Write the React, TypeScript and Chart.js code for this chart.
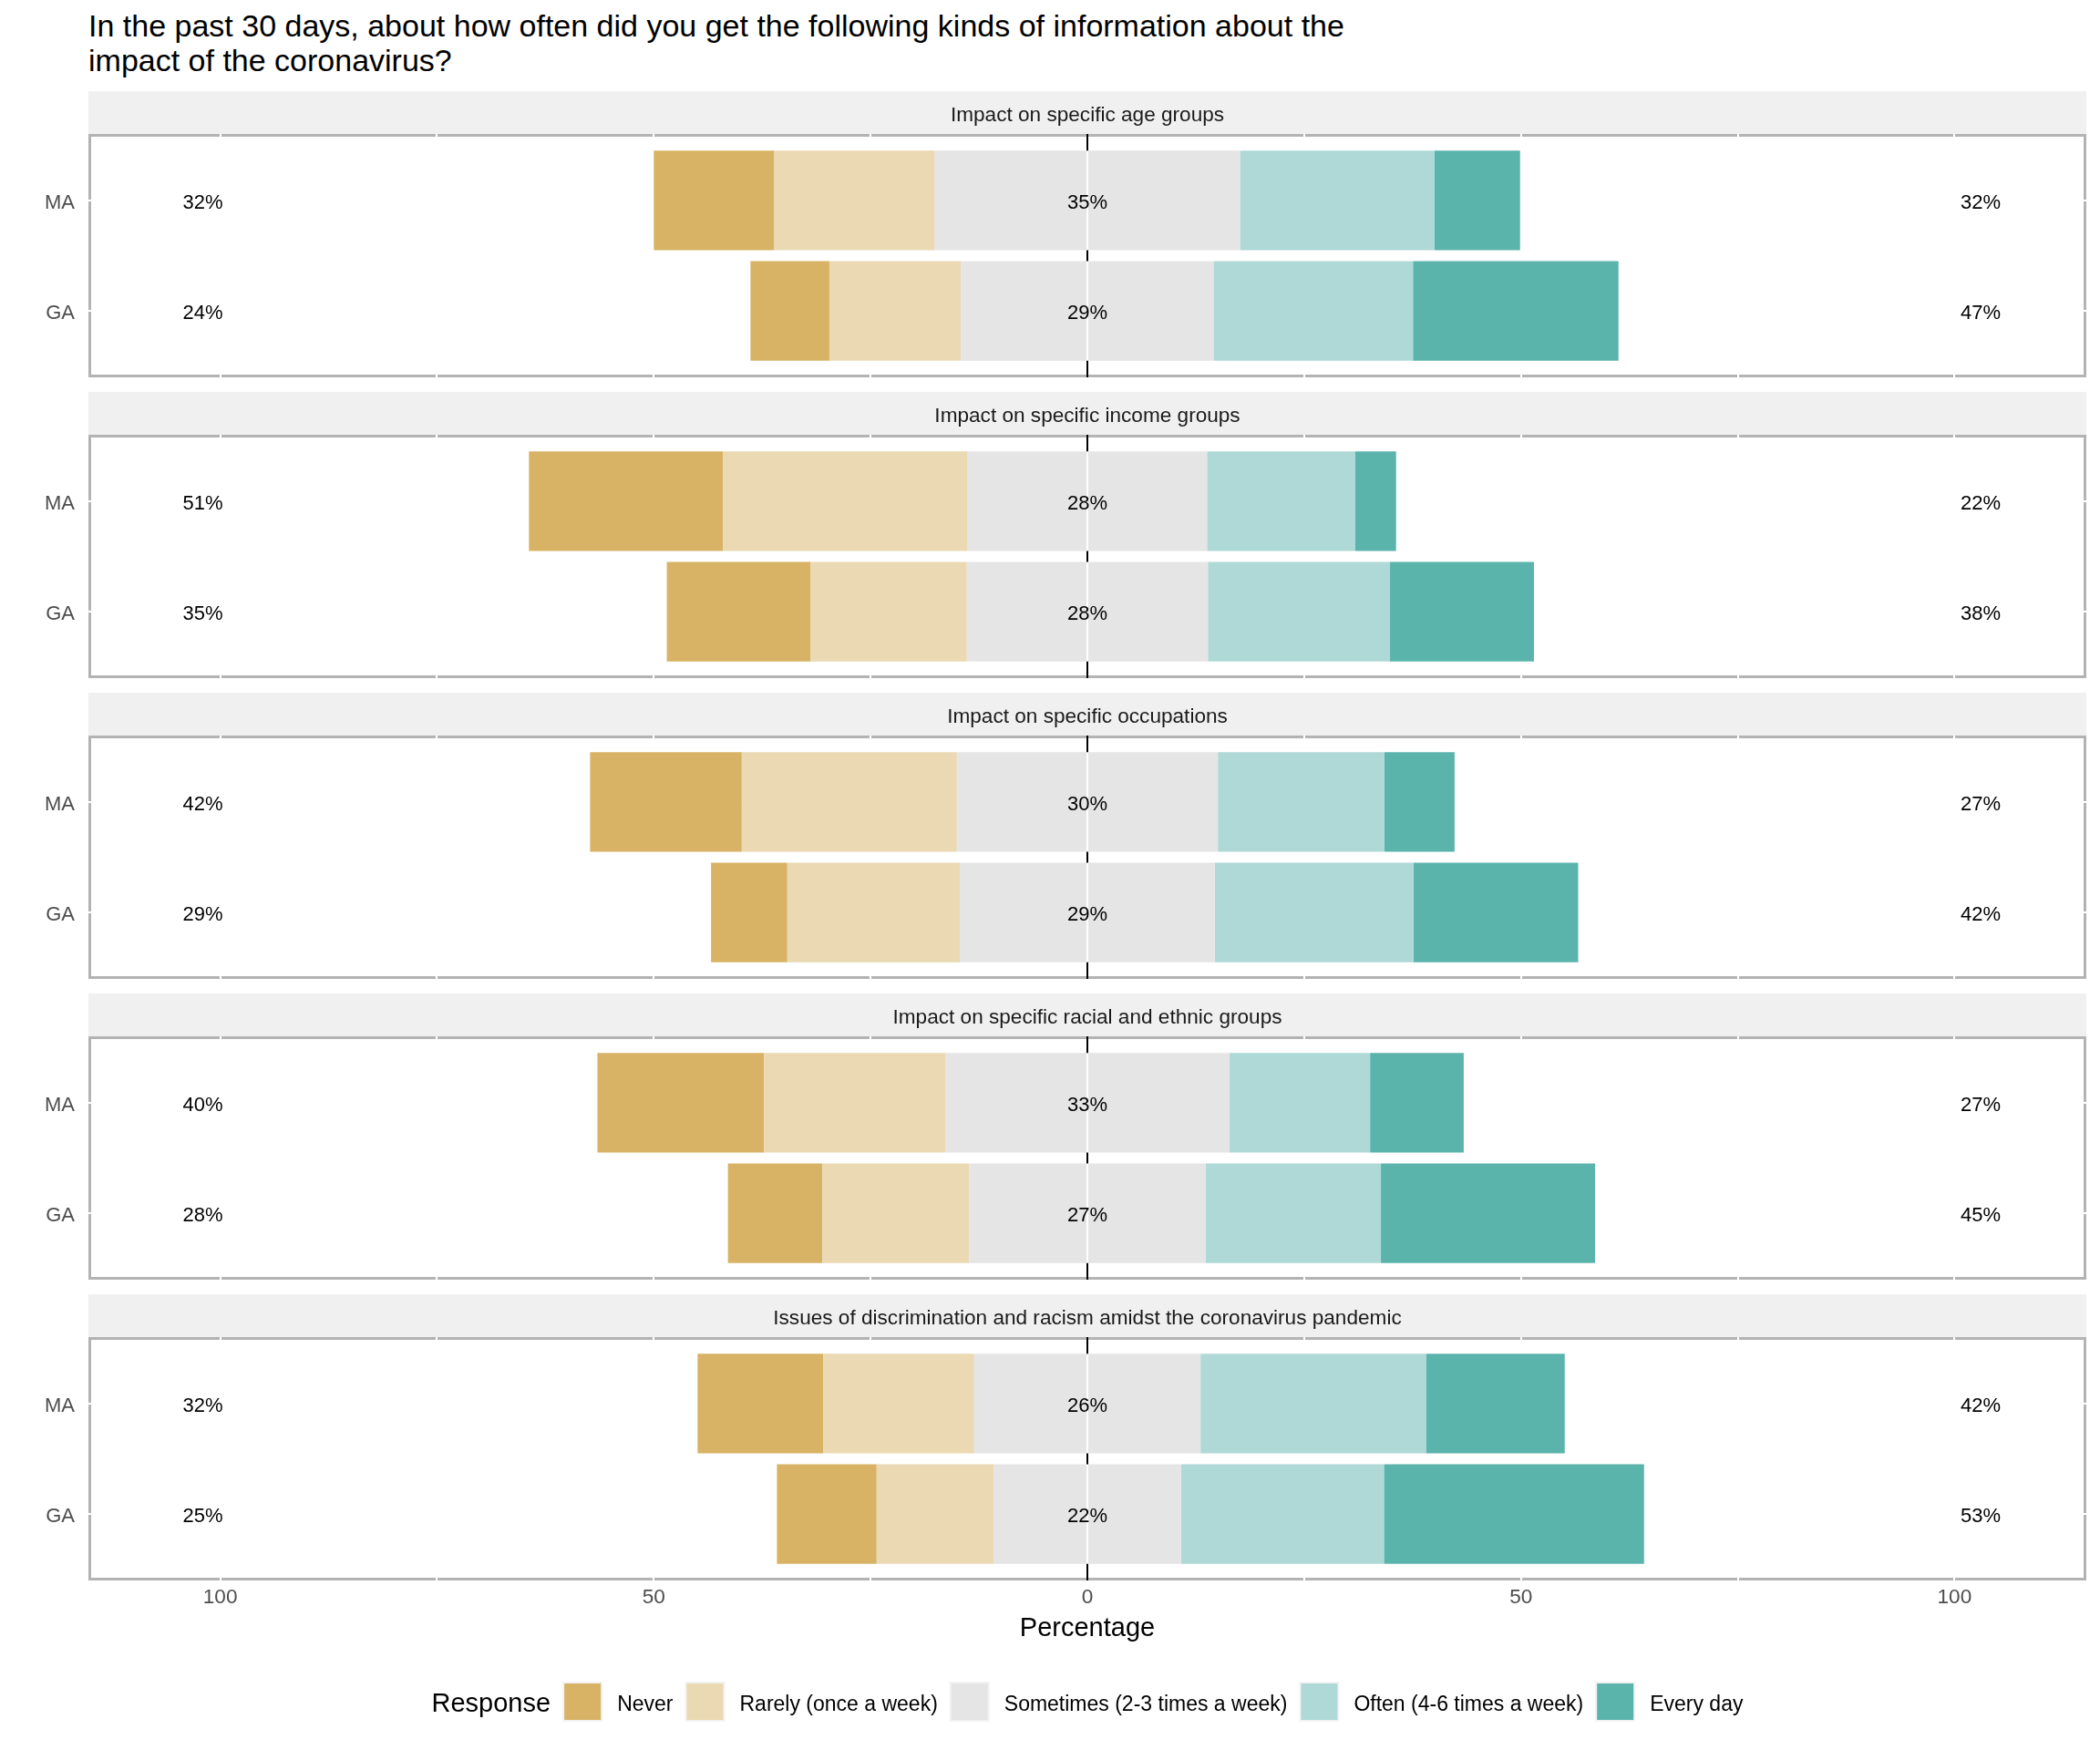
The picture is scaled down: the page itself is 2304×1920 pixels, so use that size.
import React, { useEffect, useRef } from "react";
import { Chart, registerables } from "chart.js";

Chart.register(...registerables);

const FONT = '"Liberation Sans", Arial, Helvetica, sans-serif';

// ---------------- data ----------------
const titleLines = [
  "In the past 30 days, about how often did you get the following kinds of information about the",
  "impact of the coronavirus?",
];
const panelTitles = [
  "Impact on specific age groups",
  "Impact on specific income groups",
  "Impact on specific occupations",
  "Impact on specific racial and ethnic groups",
  "Issues of discrimination and racism amidst the coronavirus pandemic",
];
const groups = ["MA", "GA"];
const responses = [
  "Never",
  "Rarely (once a week)",
  "Sometimes (2-3 times a week)",
  "Often (4-6 times a week)",
  "Every day",
];
const responseColors = ["#D8B365", "#EAD9B2", "#E5E5E5", "#AED9D6", "#5AB4AC"];
// each row: [MA, GA], one row per panel
const never = [[13.9, 9.1], [22.4, 16.6], [17.5, 8.8], [19.2, 10.9], [14.5, 11.5]];
const rarely = [[18.5, 15.2], [28.2, 18.0], [24.8, 19.9], [20.9, 16.9], [17.4, 13.5]];
const sometimes = [[35.2, 29.1], [27.6, 27.8], [30.1, 29.4], [32.8, 27.3], [26.1, 21.6]];
const often = [[22.4, 23.0], [17.1, 21.0], [19.2, 22.9], [16.2, 20.2], [26.0, 23.4]];
const everyDay = [[9.9, 23.7], [4.7, 16.6], [8.1, 19.0], [10.8, 24.7], [16.0, 30.0]];
const xTickLabels = [-100, -50, 0, 50, 100];
const xAxisTitle = "Percentage";
const legendTitle = "Response";

// ---------------- layout ----------------
const W = 2304;
const H = 1920;
const PANEL_TOP = 100;
const PANEL_STEP = 330;
const STRIP_H = 47;
const PLOT_H = 267;
const PANEL_BOTTOM_PAD = 30;
const PLOT_LEFT = 97;
const PLOT_RIGHT = 2289;
const X_MIN = -115.2;
const X_MAX = 115.2;
const LEFT_LABEL_AT = -102;
const RIGHT_LABEL_AT = 103;
const LEGEND_Y = 1867;

function Panel({ index }: { index: number }) {
  const ref = useRef<HTMLCanvasElement | null>(null);
  const isLast = index === panelTitles.length - 1;
  const top = PANEL_TOP + index * PANEL_STEP;
  const height = isLast ? H - top : STRIP_H + PLOT_H + PANEL_BOTTOM_PAD;

  useEffect(() => {
    const canvas = ref.current;
    if (!canvas) return;
    const series = [
      { label: responses[2], vals: sometimes[index].map((v) => -v / 2), color: responseColors[2] },
      { label: responses[1], vals: rarely[index].map((v) => -v), color: responseColors[1] },
      { label: responses[0], vals: never[index].map((v) => -v), color: responseColors[0] },
      { label: responses[2], vals: sometimes[index].map((v) => v / 2), color: responseColors[2] },
      { label: responses[3], vals: often[index], color: responseColors[3] },
      { label: responses[4], vals: everyDay[index], color: responseColors[4] },
    ];
    const datasets = series.map((s) => ({
      label: s.label,
      data: s.vals.map((v, j) => ({ x: v, y: j + 1 })),
      backgroundColor: s.color,
      borderWidth: 0,
      barPercentage: 0.9,
      categoryPercentage: 1,
    }));
    const axisH = isLast ? 75 : 0;
    const bottomPad = height - STRIP_H - PLOT_H - axisH;

    const decor = {
      id: "panelDecor",
      beforeDraw(chart: any) {
        const { ctx, chartArea: a } = chart;
        ctx.save();
        ctx.fillStyle = "#F0F0F0";
        ctx.fillRect(a.left, a.top - STRIP_H, a.right - a.left, STRIP_H);
        ctx.fillStyle = "#1A1A1A";
        ctx.font = `22.6px ${FONT}`;
        ctx.textAlign = "center";
        ctx.textBaseline = "alphabetic";
        ctx.fillText(panelTitles[index], (a.left + a.right) / 2, a.top - 14);
        ctx.strokeStyle = "#B3B3B3";
        ctx.lineWidth = 3;
        ctx.strokeRect(a.left + 1.5, a.top + 1.5, a.right - a.left - 3, a.bottom - a.top - 3);
        ctx.restore();
      },
      afterDatasetsDraw(chart: any) {
        const { ctx, chartArea: a } = chart;
        const xs = chart.scales.x;
        const ys = chart.scales.y;
        const x0 = xs.getPixelForValue(0);
        // zero reference line, visible only between the bars
        const bars = chart.getDatasetMeta(0).data;
        const edges: number[] = [a.top];
        bars.forEach((el: any) => {
          edges.push(el.y - el.height / 2, el.y + el.height / 2);
        });
        edges.push(a.bottom);
        ctx.save();
        ctx.strokeStyle = "#000000";
        ctx.lineWidth = 2;
        ctx.beginPath();
        for (let k = 0; k < edges.length; k += 2) {
          ctx.moveTo(x0, edges[k]);
          ctx.lineTo(x0, edges[k + 1]);
        }
        ctx.stroke();

        ctx.fillStyle = "#000000";
        ctx.font = `22px ${FONT}`;
        ctx.textAlign = "center";
        ctx.textBaseline = "alphabetic";
        groups.forEach((_, j) => {
          const y = ys.getPixelForValue(j + 1) + 9;
          const low = Math.round(never[index][j] + rarely[index][j]);
          const mid = Math.round(sometimes[index][j]);
          const high = Math.round(often[index][j] + everyDay[index][j]);
          ctx.fillText(`${low}%`, xs.getPixelForValue(LEFT_LABEL_AT), y);
          ctx.fillText(`${mid}%`, x0, y);
          ctx.fillText(`${high}%`, xs.getPixelForValue(RIGHT_LABEL_AT), y);
        });
        ctx.restore();
      },
      afterDraw(chart: any) {
        if (!isLast) return;
        const { ctx } = chart;
        const cx = chart.scales.x.getPixelForValue(0);
        const cy = LEGEND_Y - top;
        const KEY = 44;
        const KEY_GAP = 16;
        const ITEM_GAP = 13;
        const TITLE_GAP = 13;
        ctx.save();
        ctx.font = `29px ${FONT}`;
        const titleW = ctx.measureText(legendTitle).width;
        ctx.font = `23px ${FONT}`;
        const lw = responses.map((r) => ctx.measureText(r).width);
        let total = titleW + TITLE_GAP;
        lw.forEach((w, i) => {
          total += KEY + KEY_GAP + w + (i < lw.length - 1 ? ITEM_GAP : 0);
        });
        let x = cx - total / 2;
        ctx.fillStyle = "#000000";
        ctx.textAlign = "left";
        ctx.textBaseline = "alphabetic";
        ctx.font = `29px ${FONT}`;
        ctx.fillText(legendTitle, x, cy + 11);
        x += titleW + TITLE_GAP;
        ctx.font = `23px ${FONT}`;
        responses.forEach((r, i) => {
          ctx.fillStyle = "#F2F2F2";
          ctx.fillRect(x, cy - KEY / 2, KEY, KEY);
          ctx.fillStyle = responseColors[i];
          ctx.fillRect(x + 2, cy - KEY / 2 + 2, KEY - 4, KEY - 4);
          x += KEY + KEY_GAP;
          ctx.fillStyle = "#000000";
          ctx.fillText(r, x, cy + 10);
          x += lw[i] + ITEM_GAP;
        });
        ctx.restore();
      },
    };

    const chart = new Chart(canvas, {
      type: "bar",
      data: { datasets } as any,
      options: {
        indexAxis: "y",
        responsive: false,
        animation: false,
        layout: { padding: { left: 0, right: W - PLOT_RIGHT, top: STRIP_H, bottom: bottomPad } },
        plugins: {
          legend: { display: false },
          tooltip: { enabled: false },
          title: { display: false },
        },
        scales: {
          x: {
            type: "linear",
            min: X_MIN,
            max: X_MAX,
            stacked: true,
            offset: false,
            ticks: {
              display: isLast,
              stepSize: 25,
              includeBounds: false,
              autoSkip: false,
              maxRotation: 0,
              padding: 5,
              color: "#4D4D4D",
              font: { family: FONT, size: 22.6 },
              callback: (v: any) => (xTickLabels.includes(Number(v)) ? String(Math.abs(Number(v))) : ""),
            },
            grid: { color: "#FFFFFF", lineWidth: 2, drawTicks: false, offset: false },
            border: { display: false },
            title: {
              display: isLast,
              text: xAxisTitle,
              color: "#000000",
              font: { family: FONT, size: 29 },
              padding: { top: 0, bottom: 5 },
            },
            afterFit: (s: any) => {
              s.height = axisH;
            },
          },
          y: {
            type: "linear",
            min: 0.4,
            max: 2.6,
            reverse: true,
            stacked: true,
            offset: false,
            afterBuildTicks: (s: any) => {
              s.ticks = groups.map((_, j) => ({ value: j + 1 }));
            },
            ticks: {
              padding: 15,
              labelOffset: 3,
              autoSkip: false,
              color: "#4D4D4D",
              font: { family: FONT, size: 22 },
              callback: (v: any) => groups[Number(v) - 1] ?? "",
            },
            grid: { color: "#FFFFFF", lineWidth: 2, drawTicks: false, offset: false },
            border: { display: false },
            afterFit: (s: any) => {
              s.width = PLOT_LEFT;
            },
          },
        },
      } as any,
      plugins: [decor],
    });
    return () => chart.destroy();
  }, [index]);

  return (
    <canvas
      ref={ref}
      width={W}
      height={height}
      style={{ position: "absolute", left: 0, top, width: W, height, display: "block" }}
    />
  );
}

export default function App() {
  return (
    <div
      style={{
        position: "absolute",
        left: 0,
        top: 0,
        width: W,
        height: H,
        background: "#FFFFFF",
        overflow: "hidden",
      }}
    >
      <div
        style={{
          position: "absolute",
          left: 97,
          top: 9,
          fontFamily: FONT,
          fontSize: 34,
          lineHeight: "38px",
          color: "#000000",
          whiteSpace: "pre",
        }}
      >
        {titleLines.map((l, i) => (
          <div key={i}>{l}</div>
        ))}
      </div>
      {panelTitles.map((_, i) => (
        <Panel key={i} index={i} />
      ))}
    </div>
  );
}
